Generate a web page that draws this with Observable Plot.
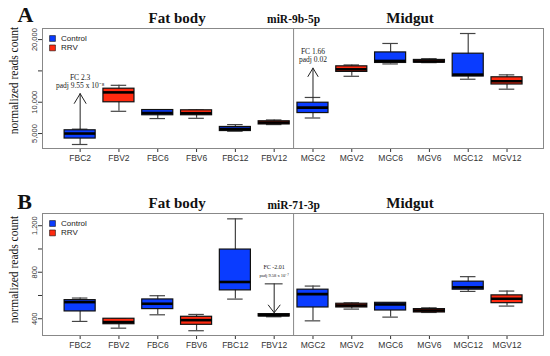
<!DOCTYPE html>
<html>
<head>
<meta charset="utf-8">
<script src="https://cdn.jsdelivr.net/npm/d3@7"></script>
<script src="https://cdn.jsdelivr.net/npm/@observablehq/plot@0.6"></script>
<style>
  body { margin: 0; background: #fff; }
  #chart { width: 550px; }
  #chart svg { display: block; }
</style>
</head>
<body>
<div id="chart"></div>
<script>
// ---- shared categories ----
const categories = ["FBC2","FBV2","FBC6","FBV6","FBC12","FBV12","MGC2","MGV2","MGC6","MGV6","MGC12","MGV12"];
const treatment  = ["Control","RRV","Control","RRV","Control","RRV","Control","RRV","Control","RRV","Control","RRV"];
const tissue     = ["Fat body","Fat body","Fat body","Fat body","Fat body","Fat body","Midgut","Midgut","Midgut","Midgut","Midgut","Midgut"];
const groups = ["Control", "RRV"];
const groupColors = ["#0a3cff", "#ff2a10"];
const yTitle = "normalized reads count";

// ---- Panel A: miR-9b-5p ----
const lowA  = [3250, 8550, 7390, 7430, 5370, 6430, 7480, 14140, 16110, 16320, 13670, 12080];
const q1A   = [4200, 9990, 7920, 7920, 5400, 6450, 8270, 14840, 16270, 16320, 14100, 12830];
const medA  = [5000, 11570, 8280, 8240, 5730, 6750, 9130, 15250, 16590, 16520, 14410, 13350];
const q3A   = [5520, 12160, 8750, 8710, 6050, 6960, 9920, 15730, 17950, 16750, 17750, 13980];
const highA = [5700, 12700, 8750, 8750, 6430, 7170, 10760, 15950, 19380, 16950, 20970, 14370];
const yTicksA = [5000, 10000, 15000, 20000];
const yTickLabelsA = ["5,000", "10,000", "", "20,000"];
const annCatA  = ["FBC2", "MGC2"];
const annFromA = [5700, 10760];
const annToA   = [11370, 15450];
const annLine1A = ["FC 2.3", "FC 1.66"];
const annLine2A = ["padj 9.55 x 10\u207B\u2078", "padj 0.02"];

// ---- Panel B: miR-71-3p ----
const lowB  = [377, 319, 434, 297, 569, 417, 382, 483, 414, 454, 635, 509];
const q1B   = [463, 353, 483, 348, 644, 420, 497, 497, 471, 454, 650, 534];
const medB  = [543, 371, 529, 388, 716, 431, 612, 514, 523, 471, 670, 572];
const q3B   = [560, 400, 566, 417, 995, 440, 650, 529, 537, 483, 719, 601];
const highB = [578, 400, 598, 437, 1259, 443, 681, 537, 537, 494, 762, 638];
const yTicksB = [400, 600, 800, 1000, 1200];
const yTickLabelsB = ["400", "", "800", "", "1,200"];
const annCatB  = ["FBV12"];
const annFromB = [700];
const annToB   = [452];
const annLine1B = ["FC -2.01"];
const annLine2B = ["padj 9.58 x 10\u207B\u2077"];

const serif = "'Liberation Serif', 'Times New Roman', serif";
const sans = "'Liberation Sans', Arial, sans-serif";

function panel(cfg) {
  const rows = categories.map((cat, i) => ({
    cat, pos: i + 1, group: treatment[i], tissue: tissue[i],
    low: cfg.low[i], q1: cfg.q1[i], med: cfg.med[i], q3: cfg.q3[i], high: cfg.high[i]
  }));
  const posOf = c => categories.indexOf(c) + 1;
  const tissues = [...new Set(tissue)];
  const titles = tissues.map(t => ({label: t, pos: d3.mean(rows.filter(r => r.tissue === t), r => r.pos)}));
  const divider = (d3.max(rows.filter(r => r.tissue === tissues[0]), r => r.pos) +
                   d3.min(rows.filter(r => r.tissue === tissues[1]), r => r.pos)) / 2;
  const anns = cfg.annCat.map((c, i) => ({
    pos: posOf(c), from: cfg.annFrom[i], to: cfg.annTo[i],
    top: Math.max(cfg.annFrom[i], cfg.annTo[i]),
    l1: cfg.annLine1[i], l2: cfg.annLine2[i]
  }));
  const tickLabel = new Map(cfg.yTicks.map((t, i) => [t, cfg.yTickLabels[i]]));
  const halfBox = 0.4, halfCap = 0.2;

  return Plot.plot({
    width: 550, height: cfg.height,
    marginLeft: 42, marginRight: 7, marginTop: cfg.marginTop, marginBottom: cfg.marginBottom,
    style: {fontFamily: sans, background: "#fff", overflow: "visible"},
    x: {domain: [0.03, 12.94]},
    y: {domain: cfg.yDomain},
    color: {domain: groups, range: groupColors},
    marks: [
      Plot.axisX({ticks: rows.map(r => r.pos), tickFormat: p => categories[p - 1], tickSize: 4, tickPadding: 2.5,
                  fontSize: 8.5, color: "#333", label: null}),
      Plot.axisY({ticks: cfg.yTicks, tickFormat: v => tickLabel.get(v), tickRotate: -90, tickSize: 4, tickPadding: 2,
                  fontSize: 7.5, color: "#333", label: null}),
      Plot.frame({stroke: "#888"}),
      Plot.ruleX([divider], {stroke: "#888"}),
      // whiskers
      Plot.ruleX(rows, {x: "pos", y1: "low", y2: "high", stroke: "#444", strokeWidth: 1.2}),
      Plot.ruleY(rows, {y: "low", x1: d => d.pos - halfCap, x2: d => d.pos + halfCap, stroke: "#444", strokeWidth: 1.2}),
      Plot.ruleY(rows, {y: "high", x1: d => d.pos - halfCap, x2: d => d.pos + halfCap, stroke: "#444", strokeWidth: 1.2}),
      // boxes
      Plot.rect(rows, {x1: d => d.pos - halfBox, x2: d => d.pos + halfBox, y1: "q1", y2: "q3", fill: "group",
                       stroke: "#111", strokeWidth: 1.2}),
      // medians
      Plot.ruleY(rows, {y: "med", x1: d => d.pos - halfBox, x2: d => d.pos + halfBox, stroke: "#000", strokeWidth: 2.6}),
      // annotations
      cfg.startBar ? Plot.ruleY(anns, {y: "from", x1: d => d.pos - 0.23, x2: d => d.pos + 0.23, stroke: "#222", strokeWidth: 1}) : null,
      Plot.arrow(anns, {x: "pos", y1: "from", y2: "to", stroke: "#222", strokeWidth: 1, headAngle: cfg.headAngle, headLength: 17}),
      Plot.text(anns, {x: "pos", y: "top", text: "l1", dy: cfg.annDy1, fontFamily: serif, fontSize: cfg.annSize1, fill: "#222"}),
      Plot.text(anns, {x: "pos", y: "top", text: "l2", dy: cfg.annDy2, fontFamily: serif, fontSize: cfg.annSize2, fill: "#222"}),
      // legend
      ...groups.map((g, i) => Plot.dot([g], {frameAnchor: "top-left", dx: 10, dy: 10 + i * 9.4, symbol: "square", r: 3.3,
                                             fill: groupColors[i], stroke: "#111", strokeWidth: 0.6})),
      ...groups.map((g, i) => Plot.text([g], {frameAnchor: "top-left", dx: 18.5, dy: 10 + i * 9.4, text: d => d,
                                              textAnchor: "start", lineAnchor: "middle", fontSize: 8, fill: "#222"})),
      // titles
      Plot.text(titles, {x: "pos", text: "label", frameAnchor: "top", dy: -10.7, lineAnchor: "middle",
                         fontFamily: serif, fontWeight: "bold", fontSize: 15, fill: "#111"}),
      Plot.text([{label: cfg.mirna, pos: divider}], {x: "pos", text: "label", frameAnchor: "top", dy: cfg.mirDy, lineAnchor: "middle",
                         fontFamily: serif, fontWeight: "bold", fontSize: 11.5, fill: "#111"}),
      Plot.text([cfg.letter], {frameAnchor: "top-left", text: d => d, dx: cfg.letterDx, dy: cfg.letterDy, textAnchor: "middle", lineAnchor: "middle",
                         fontFamily: serif, fontWeight: "bold", fontSize: 22, fill: "#111"}),
      Plot.text([yTitle], {frameAnchor: "left", text: d => d, rotate: -90, dx: -28.5, dy: cfg.yTitleDy, textAnchor: "middle", lineAnchor: "middle",
                         fontFamily: serif, fontSize: 11.5, fill: "#111"})
    ]
  });
}

const chart = document.getElementById("chart");
chart.append(panel({
  letter: "A", mirna: "miR-9b-5p",
  low: lowA, q1: q1A, med: medA, q3: q3A, high: highA,
  yDomain: [2611, 21770], yTicks: yTicksA, yTickLabels: yTickLabelsA,
  annCat: annCatA, annFrom: annFromA, annTo: annToA, annLine1: annLine1A, annLine2: annLine2A,
  annDy1: -16.5, annDy2: -8.5, annSize1: 7.5, annSize2: 7.5, headAngle: 62, startBar: false,
  height: 176, marginTop: 28, marginBottom: 28,
  mirDy: -9.5, letterDx: -17, letterDy: -13.5, yTitleDy: -8
}));
chart.append(panel({
  letter: "B", mirna: "miR-71-3p",
  low: lowB, q1: q1B, med: medB, q3: q3B, high: highB,
  yDomain: [256, 1305], yTicks: yTicksB, yTickLabels: yTickLabelsB,
  annCat: annCatB, annFrom: annFromB, annTo: annToB, annLine1: annLine1B, annLine2: annLine2B,
  annDy1: -16.5, annDy2: -8.3, annSize1: 6, annSize2: 4.5, headAngle: 75, startBar: true,
  height: 180, marginTop: 37, marginBottom: 21,
  mirDy: -8.5, letterDx: -18, letterDy: -12, yTitleDy: -5
}));
</script>
</body>
</html>
